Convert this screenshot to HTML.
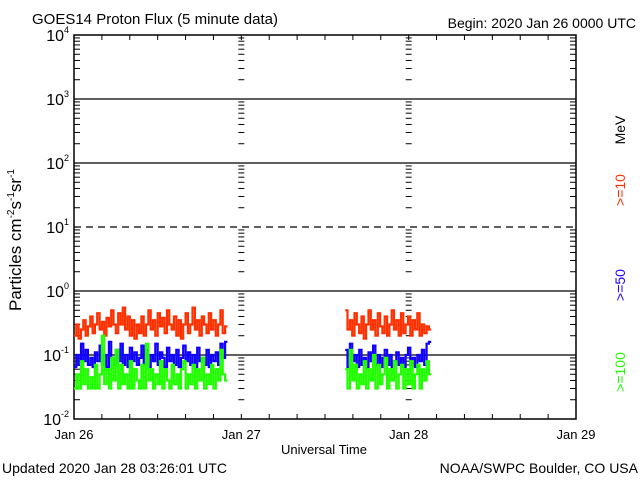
<!DOCTYPE html>
<html><head><meta charset="utf-8"><style>
html,body{margin:0;padding:0;background:#fff;}
svg{display:block;font-family:"Liberation Sans",sans-serif;}
</style></head><body>
<svg id="chart" width="640" height="480" viewBox="0 0 640 480">
<rect width="640" height="480" fill="#fff"/>
<text x="32" y="24" font-size="15">GOES14 Proton Flux (5 minute data)</text>
<text x="636" y="28" font-size="14" text-anchor="end">Begin: 2020 Jan 26 0000 UTC</text>
<text x="324" y="454" font-size="13" text-anchor="middle">Universal Time</text>
<text x="2" y="473" font-size="14">Updated 2020 Jan 28 03:26:01 UTC</text>
<text x="638" y="473" font-size="14" text-anchor="end">NOAA/SWPC Boulder, CO USA</text>
<text transform="translate(21,240) rotate(-90)" font-size="17" text-anchor="middle">Particles cm<tspan dy="-7" font-size="10">-2</tspan><tspan dy="7">s</tspan><tspan dy="-7" font-size="10">-1</tspan><tspan dy="7">sr</tspan><tspan dy="-7" font-size="10">-1</tspan></text>
<text transform="translate(625,130) rotate(-90)" font-size="14" text-anchor="middle">MeV</text>
<text transform="translate(625,190) rotate(-90)" font-size="14" text-anchor="middle" fill="#ff3000">&gt;=10</text>
<text transform="translate(625,285) rotate(-90)" font-size="14" text-anchor="middle" fill="#2000ff">&gt;=50</text>
<text transform="translate(625,372) rotate(-90)" font-size="14" text-anchor="middle" fill="#20ff00">&gt;=100</text>
<g id="axes"></g>
<g id="series"></g>
</svg>
<script>
const xTickLabels = ["Jan 26","Jan 27","Jan 28","Jan 29"];
const yDecades = [-2,-1,0,1,2,3,4];
const seg1Start = 0, seg2Start = 38.9, stepHours = 1/3;
const red1 = [0.2,0.3,0.18,0.25,0.35,0.2,0.28,0.4,0.22,0.3,0.45,0.25,0.33,0.2,0.38,0.28,0.5,0.3,0.22,0.45,0.3,0.55,0.25,0.4,0.2,0.35,0.18,0.3,0.22,0.4,0.2,0.3,0.5,0.25,0.35,0.2,0.45,0.28,0.38,0.22,0.5,0.3,0.25,0.4,0.2,0.35,0.18,0.3,0.45,0.22,0.3,0.55,0.25,0.35,0.2,0.4,0.3,0.22,0.45,0.25,0.35,0.2,0.3,0.5,0.22,0.28];
const blue1 = [0.065,0.1,0.07,0.15,0.08,0.12,0.07,0.09,0.065,0.11,0.08,0.14,0.07,0.1,0.065,0.16,0.09,0.07,0.12,0.08,0.15,0.07,0.1,0.065,0.13,0.08,0.11,0.07,0.09,0.14,0.07,0.12,0.065,0.1,0.08,0.15,0.07,0.11,0.09,0.065,0.13,0.08,0.1,0.07,0.12,0.065,0.09,0.14,0.08,0.11,0.07,0.1,0.065,0.13,0.08,0.09,0.07,0.12,0.065,0.1,0.08,0.11,0.07,0.15,0.09,0.16];
const green1 = [0.03,0.05,0.03,0.08,0.035,0.06,0.03,0.045,0.03,0.07,0.03,0.05,0.2,0.035,0.06,0.03,0.09,0.04,0.12,0.03,0.07,0.035,0.05,0.03,0.08,0.03,0.06,0.04,0.03,0.07,0.03,0.15,0.04,0.06,0.03,0.05,0.035,0.08,0.03,0.06,0.04,0.03,0.07,0.035,0.05,0.03,0.06,0.08,0.03,0.05,0.035,0.07,0.03,0.06,0.04,0.09,0.03,0.05,0.035,0.07,0.03,0.06,0.04,0.12,0.05,0.04];
const red2 = [0.5,0.25,0.35,0.2,0.45,0.3,0.22,0.4,0.18,0.3,0.5,0.25,0.35,0.2,0.45,0.28,0.22,0.4,0.2,0.3,0.5,0.25,0.35,0.2,0.45,0.22,0.3,0.4,0.2,0.35,0.25,0.45,0.2,0.3,0.22,0.28,0.25];
const blue2 = [0.12,0.065,0.15,0.08,0.1,0.065,0.12,0.07,0.09,0.065,0.11,0.08,0.14,0.07,0.1,0.065,0.09,0.12,0.07,0.1,0.065,0.08,0.11,0.07,0.09,0.065,0.1,0.13,0.07,0.09,0.065,0.1,0.08,0.12,0.07,0.15,0.16];
const green2 = [0.06,0.03,0.12,0.04,0.07,0.03,0.05,0.035,0.08,0.03,0.06,0.04,0.1,0.03,0.07,0.035,0.05,0.09,0.03,0.06,0.04,0.08,0.03,0.05,0.07,0.03,0.06,0.035,0.08,0.03,0.05,0.07,0.03,0.06,0.04,0.08,0.05];

const NS="http://www.w3.org/2000/svg";
const L=74,R=576,T=35,B=419;
function xs(h){return L+(h/72)*(R-L);}
function ys(v){return B-(Math.log10(v)+2)/6*(B-T);}
function mk(tag,attrs,parent){const e=document.createElementNS(NS,tag);for(const k in attrs)e.setAttribute(k,attrs[k]);parent.appendChild(e);return e;}
const ax=document.getElementById('axes');
const frame=mk('rect',{x:L,y:T,width:R-L,height:B-T,fill:'none',stroke:'#000','stroke-width':1.5},ax);


yDecades.forEach(d=>{
  const y=ys(Math.pow(10,d));
  if(d>-2&&d<4){
    const g=mk('line',{x1:L,x2:R,y1:y,y2:y,stroke:'#000','stroke-width':1.3,'stroke-dasharray':d===1?'7,5':'none'},ax);
    
    
  }
  const t=mk('text',{x:L-5,y:y+6,'font-size':16,'text-anchor':'end'},ax);
  
  
  t.textContent='10';
  const sp=mk('tspan',{dy:-8,'font-size':9},t);sp.textContent=String(d);
  if(d<4){for(let m=2;m<=9;m++){
    const ym=ys(m*Math.pow(10,d));
    mk('line',{x1:L,x2:L+6,y1:ym,y2:ym,stroke:'#000','stroke-width':1},ax);
    mk('line',{x1:R-6,x2:R,y1:ym,y2:ym,stroke:'#000','stroke-width':1},ax);
    [24,48].forEach(h=>mk('line',{x1:xs(h)-3,x2:xs(h)+3,y1:ym,y2:ym,stroke:'#000','stroke-width':1},ax));
  }}
});
xTickLabels.forEach((lab,i)=>{
  const x=xs(i*24);
  const t=mk('text',{x:x,y:439,'font-size':13,'text-anchor':'middle'},ax);
  
  
  t.textContent=lab;
});
for(let h=4;h<72;h+=4){
  const x=xs(h);
  mk('line',{x1:x,x2:x,y1:B,y2:B-5,stroke:'#000'},ax);
  mk('line',{x1:x,x2:x,y1:T,y2:T+5,stroke:'#000'},ax);
}
const sg=document.getElementById('series');
function draw(arr,start,color,name){
  const pts=[];
  arr.forEach((v,i)=>{
    const x0=xs(start+i*stepHours), x1=xs(start+(i+1)*stepHours), y=ys(v);
    pts.push(x0.toFixed(1)+','+y.toFixed(1));
    pts.push(x1.toFixed(1)+','+y.toFixed(1));
  });
  const p=mk('polyline',{points:pts.join(' '),fill:'none',stroke:color,'stroke-width':2.2},sg);
  
  
}
draw(red1,seg1Start,'#ff3000','series-10mev-seg1');
draw(red2,seg2Start,'#ff3000','series-10mev-seg2');
draw(blue1,seg1Start,'#1000ff','series-50mev-seg1');
draw(blue2,seg2Start,'#1000ff','series-50mev-seg2');
draw(green1,seg1Start,'#20ff00','series-100mev-seg1');
draw(green2,seg2Start,'#20ff00','series-100mev-seg2');
</script>
</body></html>
